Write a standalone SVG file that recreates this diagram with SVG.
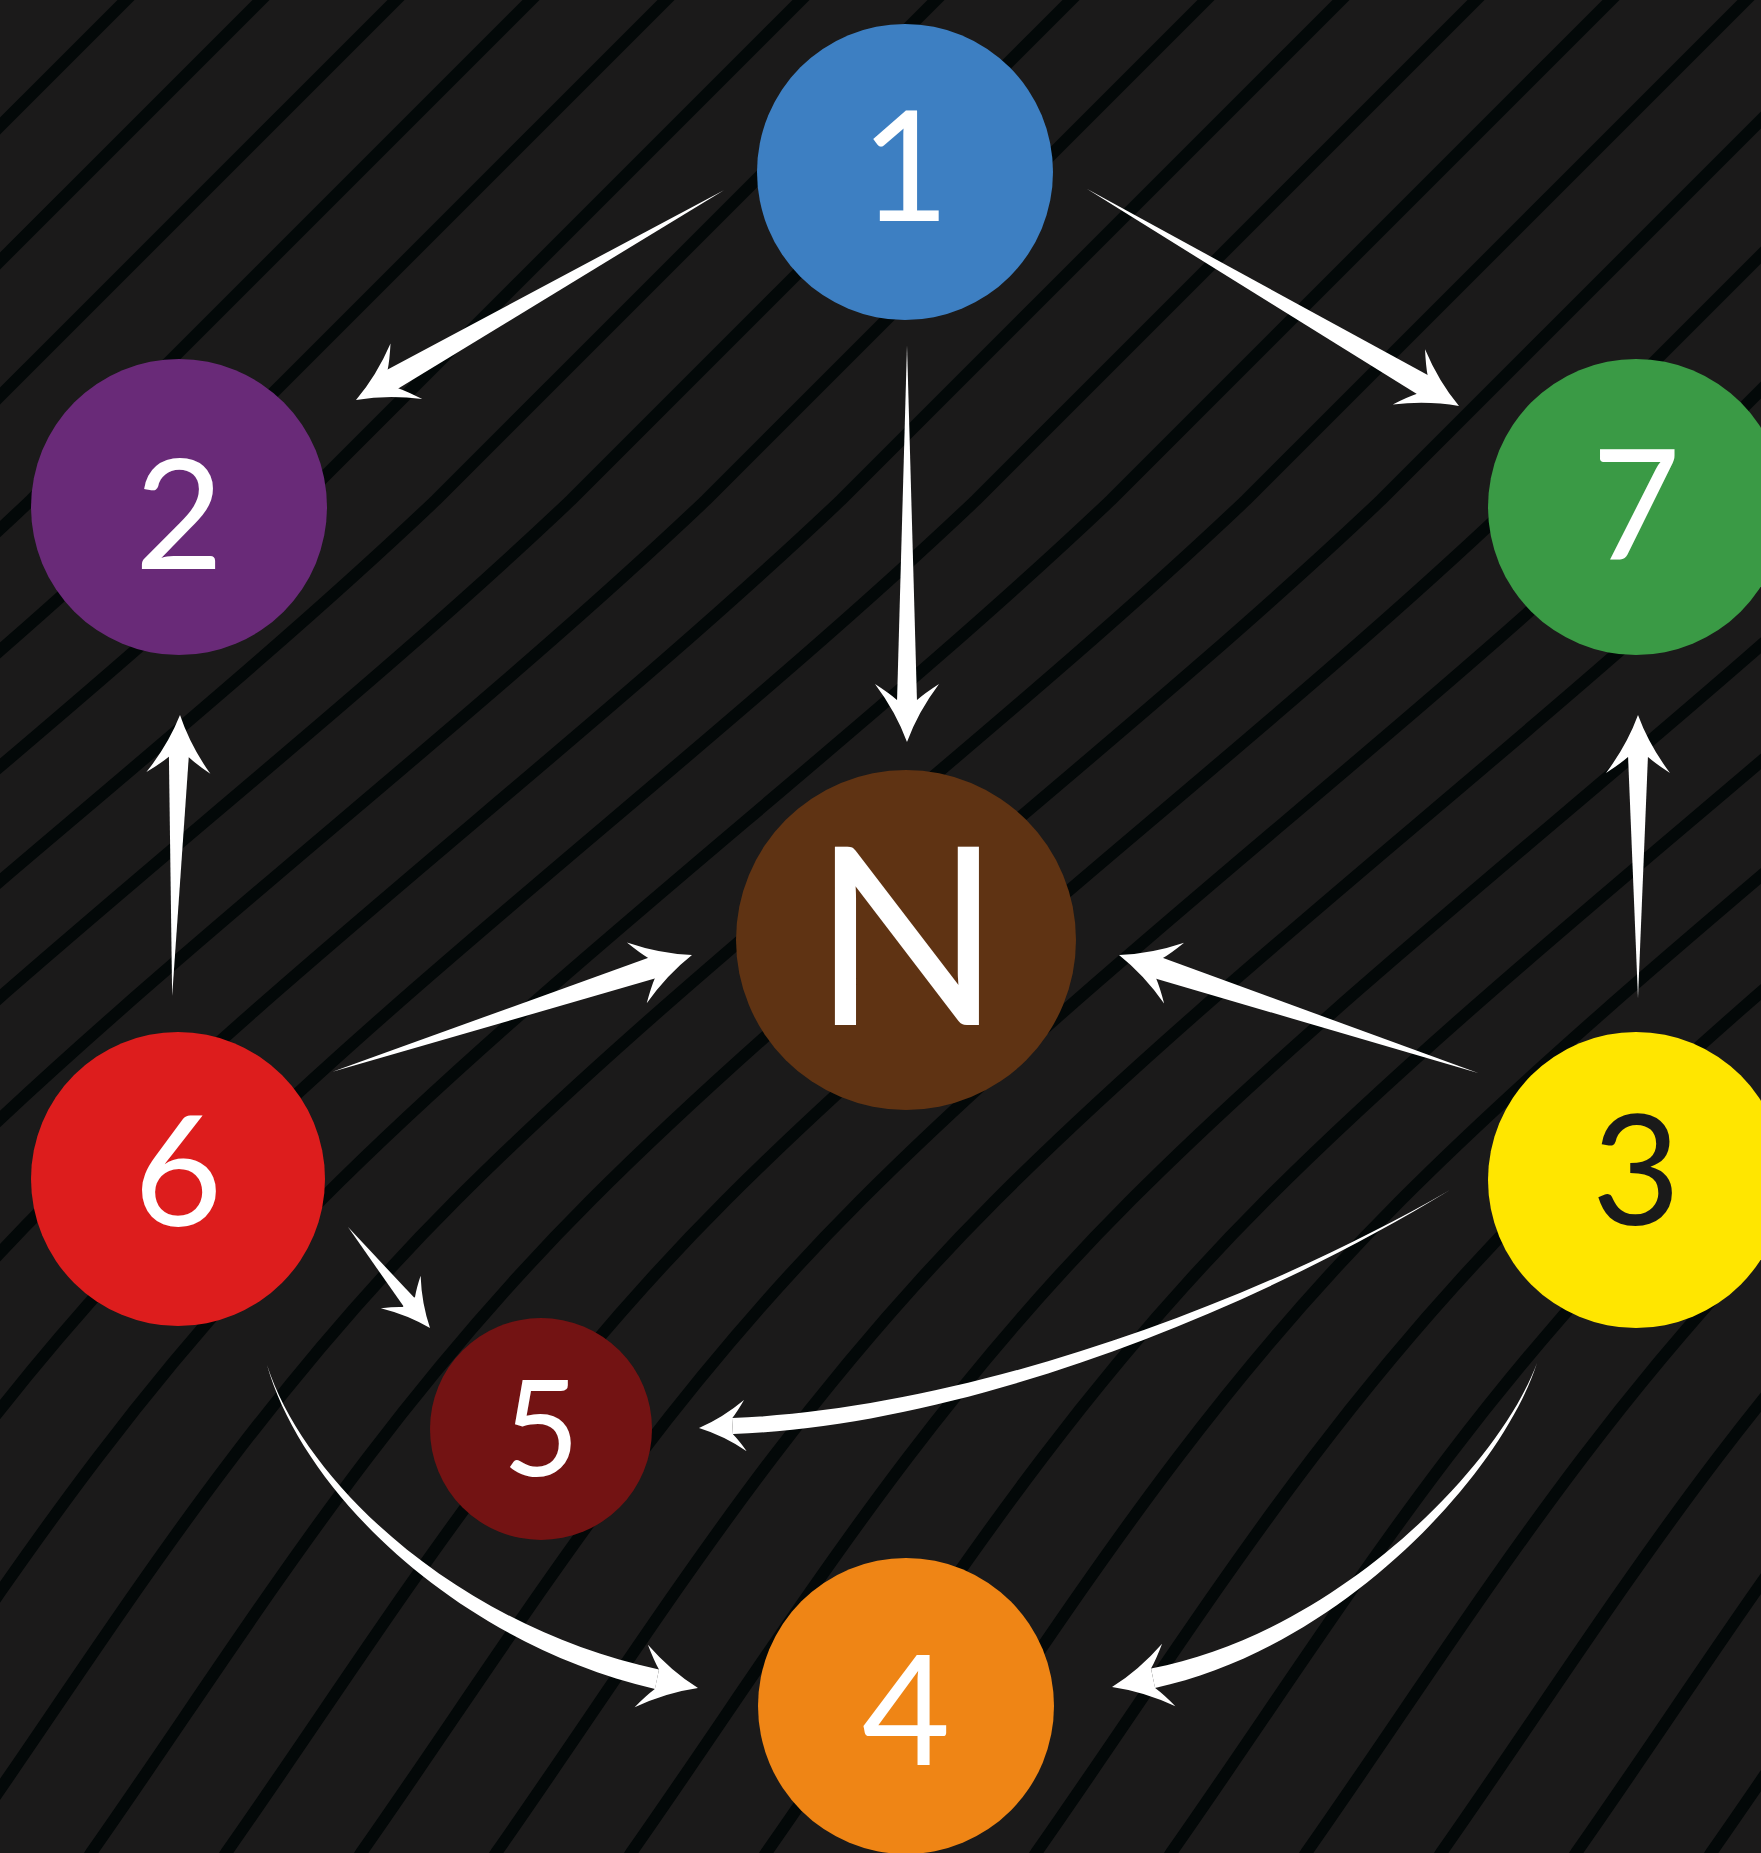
<svg xmlns="http://www.w3.org/2000/svg" xmlns:xlink="http://www.w3.org/1999/xlink" width="1761" height="1853" viewBox="0 0 1761 1853">
<style>
.stripe{fill:none;stroke:#030808;stroke-width:12;stroke-linecap:round}
.arw{fill:#ffffff;stroke:none}
.lbl{font-family:Lato,"Open Sans","Liberation Sans",sans-serif;font-weight:400;text-anchor:middle;fill:#ffffff}
</style>
<defs>
<path id="st" d="M20,-20 L0,0 C-167,167 -333,333 -500,500 C-745,733 -1057,967 -1290,1200 C-1508,1418 -1637,1635 -1790,1853 L-1802,1873"/>
<path id="head" d="M0,0 Q-30,-11 -58,-32 Q-49,-18 -42,-10 L-42,10 Q-49,18 -58,32 Q-30,11 0,0 Z"/>
</defs>
<rect x="0" y="0" width="1761" height="1853" fill="#1b1a1a"/>
<g id="background-stripes" class="stripe">
<use href="#st" x="126"/><use href="#st" x="261"/><use href="#st" x="396"/><use href="#st" x="531"/>
<use href="#st" x="666"/><use href="#st" x="801"/><use href="#st" x="936"/><use href="#st" x="1071"/>
<use href="#st" x="1206"/><use href="#st" x="1341"/><use href="#st" x="1476"/><use href="#st" x="1611"/>
<use href="#st" x="1746"/><use href="#st" x="1881"/><use href="#st" x="2016"/><use href="#st" x="2151"/>
<use href="#st" x="2286"/><use href="#st" x="2421"/><use href="#st" x="2556"/><use href="#st" x="2691"/>
<use href="#st" x="2826"/><use href="#st" x="2961"/><use href="#st" x="3096"/><use href="#st" x="3231"/>
<use href="#st" x="3366"/><use href="#st" x="3501"/>
</g>
<g id="connectors" class="arw">
<g id="e-1-2" transform="translate(356,400) rotate(150.3)"><path d="M-424,0 L-40,-11 L-40,11 Z"/><use href="#head"/></g>
<g id="e-1-7" transform="translate(1459,406) rotate(30.26)"><path d="M-431,0 L-40,-11 L-40,11 Z"/><use href="#head"/></g>
<g id="e-1-N" transform="translate(907,742) rotate(90)"><path d="M-397,0 L-40,-10 L-40,10 Z"/><use href="#head"/></g>
<g id="e-6-2" transform="translate(180,715) rotate(-88.4)"><path d="M-281,0 L-40,-10 L-40,10 Z"/><use href="#head"/></g>
<g id="e-6-N" transform="translate(692,955) rotate(-18)"><path d="M-378,0 L-40,-11 L-40,11 Z"/><use href="#head"/></g>
<g id="e-3-N" transform="translate(1119,955) rotate(-161.8)"><path d="M-378,0 L-40,-11 L-40,11 Z"/><use href="#head"/></g>
<g id="e-3-7" transform="translate(1638,715) rotate(-90)"><path d="M-283,0 L-40,-10 L-40,10 Z"/><use href="#head"/></g>
<g id="e-6-5" transform="translate(430,1328) rotate(50.9)"><path d="M-130,0 L-32,-7 L-32,7 Z"/><use href="#head" transform="scale(0.8)"/></g>
<g id="e-3-5"><path d="M1450,1190 C1229,1317 948,1410 732,1418 L733,1434 C952,1426 1231,1323 1450,1190 Z"/><use href="#head" transform="translate(699,1428) rotate(177) scale(0.8)"/></g>
<g id="e-6-4"><path d="M267,1365 C303,1492 456,1642 655,1689 L659,1669.5 C464,1628 307,1488 267,1365 Z"/><use href="#head" transform="translate(698,1688) rotate(12)"/></g>
<g id="e-3-4"><path d="M1537,1363 C1502,1472 1344,1647 1155,1688 L1151,1668.5 C1336,1633 1498,1468 1537,1363 Z"/><use href="#head" transform="translate(1112,1687) rotate(168)"/></g>
</g>
<g id="node-1"><circle cx="905" cy="172" r="148" fill="#3d7fc2"/><text class="lbl" x="905" y="221" font-size="153">1</text></g>
<g id="node-2"><circle cx="179" cy="507" r="148" fill="#692a78"/><text class="lbl" x="179" y="569" font-size="153">2</text></g>
<g id="node-7"><circle cx="1636" cy="507" r="148" fill="#3a9a45"/><text class="lbl" x="1636" y="559" font-size="153">7</text></g>
<g id="node-N"><circle cx="906" cy="940" r="170" fill="#5f3313"/><text class="lbl" x="907" y="1025" font-size="248">N</text></g>
<g id="node-6"><circle cx="178" cy="1179" r="147" fill="#dd1d1d"/><text class="lbl" x="178" y="1226" font-size="153">6</text></g>
<g id="node-3"><circle cx="1636" cy="1180" r="148" fill="#ffe600"/><text class="lbl" x="1636" y="1225" font-size="153" style="fill:#1a1a1a">3</text></g>
<g id="node-5"><circle cx="541" cy="1429" r="111" fill="#731313"/><text class="lbl" x="541" y="1476" font-size="133">5</text></g>
<g id="node-4"><circle cx="906" cy="1706" r="148" fill="#ef8515"/><text class="lbl" x="906" y="1765" font-size="153">4</text></g>
</svg>
